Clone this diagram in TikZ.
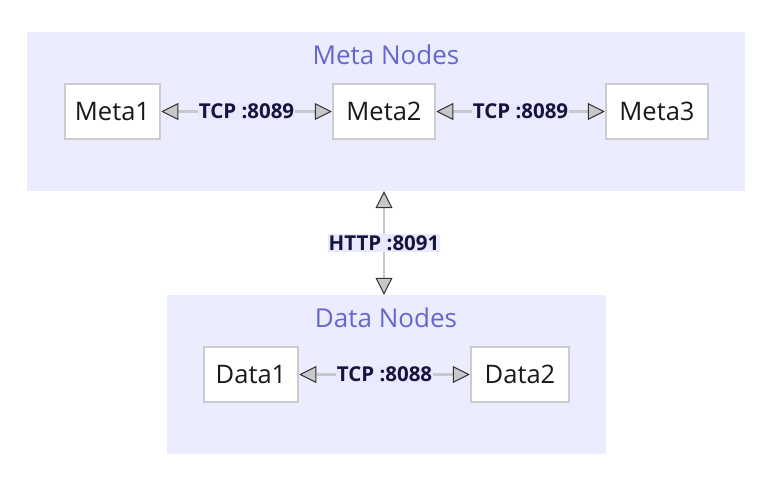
\documentclass[tikz,border=0pt]{standalone}
\usepackage{fontspec}
\setmainfont{Open Sans}
\usetikzlibrary{arrows.meta}

\newlength{\du}
\setlength{\du}{1pt}

\definecolor{clusterfill}{rgb}{0.925490, 0.925490, 1.000000}
\definecolor{clustertext}{rgb}{0.400000, 0.400000, 0.815686}
\definecolor{boxline}{rgb}{0.800000, 0.800000, 0.815686}
\definecolor{edgeline}{rgb}{0.780000, 0.780000, 0.810000}
\definecolor{tipfill}{rgb}{0.780000, 0.780000, 0.800000}
\definecolor{tipline}{rgb}{0.200000, 0.200000, 0.200000}
\definecolor{labeltext}{rgb}{0.078431, 0.078431, 0.235294}
\definecolor{labelfill}{rgb}{0.909804, 0.909804, 1.000000}

\tikzset{
  porttip/.tip={Triangle[length=17pt,width=17pt,fill=tipfill,color=tipline,line width=1pt]},
  cluster/.style={fill=clusterfill, draw=none, inner sep=0pt},
  clustertitle/.style={text=clustertext, font=\fontsize{26}{30}\selectfont, inner sep=0pt},
  hostbox/.style={fill=white, draw=boxline, line width=2.5\du, inner sep=0pt,
    minimum height=55\du, font=\fontsize{25.5}{30}\selectfont, text=black!90},
  link/.style={draw=edgeline, line width=2.5\du, porttip-porttip},
  portlabel/.style={fill=labelfill, text=labeltext, inner sep=1\du,
    font=\fontsize{20.5}{24}\selectfont\bfseries}
}

\begin{document}
\begin{tikzpicture}
\pgftransformxscale{1.000000}
\pgftransformyscale{-1.000000}
\useasboundingbox (0\du,0\du) rectangle (775\du,484\du);
% clusters
\node[cluster, minimum width=718\du, minimum height=159\du] (metacl) at (386\du,111.5\du) {};
\node[clustertitle] (metatitle) at (386\du,55\du) {Meta Nodes};
\node[cluster, minimum width=439\du, minimum height=159\du] (datacl) at (386.5\du,374.5\du) {};
\node[clustertitle] (datatitle) at (386\du,318\du) {Data Nodes};
% meta nodes
\node[hostbox, minimum width=95\du] (meta1) at (112.5\du,111.5\du) {Meta1};
\node[hostbox, minimum width=102\du] (meta2) at (384\du,111.5\du) {Meta2};
\node[hostbox, minimum width=102\du] (meta3) at (657\du,111.5\du) {Meta3};
% data nodes
\node[hostbox, minimum width=94\du] (data1) at (251\du,374.5\du) {Data1};
\node[hostbox, minimum width=98\du] (data2) at (520\du,374.5\du) {Data2};
% links
\draw[link] (meta1) -- node[portlabel] {TCP :8089} (meta2);
\draw[link] (meta2) -- node[portlabel] {TCP :8089} (meta3);
\draw[link] (data1) -- node[portlabel] {TCP :8088} (data2);
\draw[link] (metacl.south -| meta2) -- node[portlabel] {HTTP :8091} (datacl.north -| meta2);
\end{tikzpicture}
\end{document}
